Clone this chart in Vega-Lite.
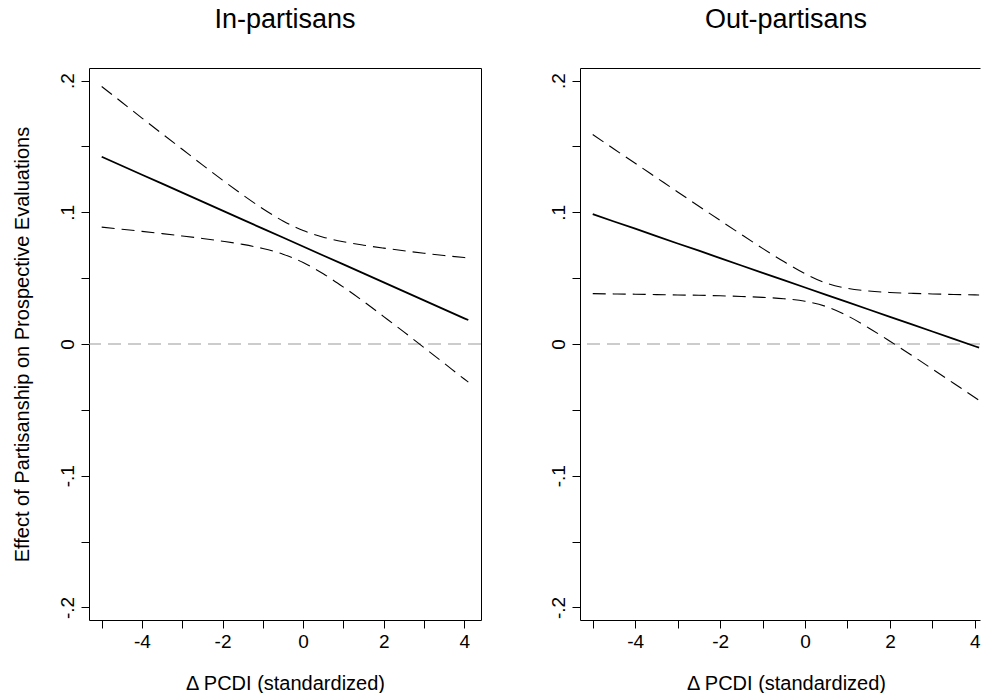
{
  "$schema": "https://vega.github.io/schema/vega-lite/v6.json",
  "padding": {"left": 12, "top": 6, "right": 0, "bottom": 0},
  "bounds": "flush",
  "spacing": 99,
  "datasets": {
    "inp": [
      {"x": -5, "est": 0.1421, "lo": 0.0887, "hi": 0.1955},
      {"x": -4.5, "est": 0.1353, "lo": 0.0871, "hi": 0.1835},
      {"x": -4, "est": 0.1285, "lo": 0.0855, "hi": 0.1715},
      {"x": -3.5, "est": 0.1217, "lo": 0.0838, "hi": 0.1596},
      {"x": -3, "est": 0.1149, "lo": 0.082, "hi": 0.1478},
      {"x": -2.5, "est": 0.1081, "lo": 0.0801, "hi": 0.136},
      {"x": -2, "est": 0.1012, "lo": 0.078, "hi": 0.1244},
      {"x": -1.5, "est": 0.0944, "lo": 0.0756, "hi": 0.1132},
      {"x": -1, "est": 0.0876, "lo": 0.0725, "hi": 0.1027},
      {"x": -0.5, "est": 0.0808, "lo": 0.0682, "hi": 0.0934},
      {"x": 0, "est": 0.074, "lo": 0.0619, "hi": 0.0861},
      {"x": 0.5, "est": 0.0672, "lo": 0.0533, "hi": 0.0811},
      {"x": 1, "est": 0.0604, "lo": 0.0432, "hi": 0.0776},
      {"x": 1.5, "est": 0.0536, "lo": 0.0323, "hi": 0.075},
      {"x": 2, "est": 0.0468, "lo": 0.0208, "hi": 0.0728},
      {"x": 2.5, "est": 0.04, "lo": 0.0092, "hi": 0.0708},
      {"x": 3, "est": 0.0331, "lo": -0.0027, "hi": 0.0689},
      {"x": 3.5, "est": 0.0263, "lo": -0.0146, "hi": 0.0672},
      {"x": 4, "est": 0.0195, "lo": -0.0266, "hi": 0.0656},
      {"x": 4.1, "est": 0.0182, "lo": -0.0289, "hi": 0.0653}
    ],
    "outp": [
      {"x": -5, "est": 0.0986, "lo": 0.0382, "hi": 0.159},
      {"x": -4.5, "est": 0.093, "lo": 0.038, "hi": 0.148},
      {"x": -4, "est": 0.0875, "lo": 0.0378, "hi": 0.1372},
      {"x": -3.5, "est": 0.0819, "lo": 0.0375, "hi": 0.1263},
      {"x": -3, "est": 0.0763, "lo": 0.0372, "hi": 0.1154},
      {"x": -2.5, "est": 0.0708, "lo": 0.037, "hi": 0.1046},
      {"x": -2, "est": 0.0652, "lo": 0.0366, "hi": 0.0938},
      {"x": -1.5, "est": 0.0596, "lo": 0.0361, "hi": 0.0831},
      {"x": -1, "est": 0.054, "lo": 0.0354, "hi": 0.0726},
      {"x": -0.5, "est": 0.0485, "lo": 0.0344, "hi": 0.0626},
      {"x": 0, "est": 0.0429, "lo": 0.0324, "hi": 0.0534},
      {"x": 0.5, "est": 0.0373, "lo": 0.0284, "hi": 0.0462},
      {"x": 1, "est": 0.0318, "lo": 0.0214, "hi": 0.0422},
      {"x": 1.5, "est": 0.0262, "lo": 0.0122, "hi": 0.0402},
      {"x": 2, "est": 0.0206, "lo": 0.0021, "hi": 0.0391},
      {"x": 2.5, "est": 0.0151, "lo": -0.0083, "hi": 0.0385},
      {"x": 3, "est": 0.0095, "lo": -0.019, "hi": 0.038},
      {"x": 3.5, "est": 0.0039, "lo": -0.0298, "hi": 0.0376},
      {"x": 4, "est": -0.0017, "lo": -0.0406, "hi": 0.0373},
      {"x": 4.1, "est": -0.0028, "lo": -0.0428, "hi": 0.0372}
    ],
    "zero": [{"y0": 0}]
  },
  "hconcat": [
    {
      "width": 392,
      "height": 552,
      "title": {"text": "In-partisans"},
      "resolve": {"axis": {"x": "independent", "y": "independent"}},
      "layer": [
        {
          "data": {"name": "zero"},
          "mark": {"type": "rule", "stroke": "#999999", "strokeWidth": 1.2, "strokeDash": [13, 7]},
          "encoding": {
            "y": {"field": "y0", "type": "quantitative", "scale": {"domain": [-0.2095, 0.2095], "nice": false, "zero": false}, "axis": null}
          }
        },
        {
          "data": {"name": "inp"},
          "mark": {"type": "line", "color": "black", "strokeWidth": 1.8},
          "encoding": {
            "x": {"field": "x", "type": "quantitative", "scale": {"domain": [-5.315, 4.415], "nice": false, "zero": false},
              "axis": {"title": "Δ PCDI (standardized)", "values": [-5, -4, -3, -2, -1, 0, 1, 2, 3, 4], "labelExpr": "datum.value % 2 == 0 ? '' + datum.value : ''"}},
            "y": {"field": "est", "type": "quantitative", "scale": {"domain": [-0.2095, 0.2095], "nice": false, "zero": false},
              "axis": {"title": "Effect of Partisanship on Prospective Evaluations", "values": [-0.2, -0.15, -0.1, -0.05, 0, 0.05, 0.1, 0.15, 0.2],
                "labelExpr": "round(datum.value*20)==4 ? '.2' : round(datum.value*20)==2 ? '.1' : round(datum.value*20)==0 ? '0' : round(datum.value*20)==-2 ? '-.1' : round(datum.value*20)==-4 ? '-.2' : ''",
                "labelAngle": -90, "labelAlign": "center", "labelBaseline": "alphabetic", "labelPadding": 8, "titlePadding": 26}}
          }
        },
        {
          "data": {"name": "inp"},
          "mark": {"type": "line", "color": "black", "strokeWidth": 1.1, "strokeDash": [13, 7], "interpolate": "monotone"},
          "encoding": {
            "x": {"field": "x", "type": "quantitative", "scale": {"domain": [-5.315, 4.415], "nice": false, "zero": false},
              "axis": {"orient": "top", "title": null, "ticks": false, "labels": false, "domain": true}},
            "y": {"field": "hi", "type": "quantitative", "scale": {"domain": [-0.2095, 0.2095], "nice": false, "zero": false},
              "axis": {"orient": "right", "title": null, "ticks": false, "labels": false, "domain": true}}
          }
        },
        {
          "data": {"name": "inp"},
          "mark": {"type": "line", "color": "black", "strokeWidth": 1.1, "strokeDash": [13, 7], "interpolate": "monotone"},
          "encoding": {
            "x": {"field": "x", "type": "quantitative", "scale": {"domain": [-5.315, 4.415], "nice": false, "zero": false}, "axis": null},
            "y": {"field": "lo", "type": "quantitative", "scale": {"domain": [-0.2095, 0.2095], "nice": false, "zero": false}, "axis": null}
          }
        }
      ]
    },
    {
      "width": 400,
      "height": 552,
      "title": {"text": "Out-partisans", "dx": 6},
      "resolve": {"axis": {"x": "independent", "y": "independent"}},
      "layer": [
        {
          "data": {"name": "zero"},
          "mark": {"type": "rule", "stroke": "#999999", "strokeWidth": 1.2, "strokeDash": [13, 7]},
          "encoding": {
            "y": {"field": "y0", "type": "quantitative", "scale": {"domain": [-0.2095, 0.2095], "nice": false, "zero": false}, "axis": null}
          }
        },
        {
          "data": {"name": "outp"},
          "mark": {"type": "line", "color": "black", "strokeWidth": 1.8},
          "encoding": {
            "x": {"field": "x", "type": "quantitative", "scale": {"domain": [-5.3, 4.121], "nice": false, "zero": false},
              "axis": {"title": "Δ PCDI (standardized)", "titleX": 206, "values": [-5, -4, -3, -2, -1, 0, 1, 2, 3, 4], "labelExpr": "datum.value % 2 == 0 ? '' + datum.value : ''"}},
            "y": {"field": "est", "type": "quantitative", "scale": {"domain": [-0.2095, 0.2095], "nice": false, "zero": false},
              "axis": {"title": null, "values": [-0.2, -0.15, -0.1, -0.05, 0, 0.05, 0.1, 0.15, 0.2],
                "labelExpr": "round(datum.value*20)==4 ? '.2' : round(datum.value*20)==2 ? '.1' : round(datum.value*20)==0 ? '0' : round(datum.value*20)==-2 ? '-.1' : round(datum.value*20)==-4 ? '-.2' : ''",
                "labelAngle": -90, "labelAlign": "center", "labelBaseline": "alphabetic", "labelPadding": 8}}
          }
        },
        {
          "data": {"name": "outp"},
          "mark": {"type": "line", "color": "black", "strokeWidth": 1.1, "strokeDash": [13, 7], "interpolate": "monotone"},
          "encoding": {
            "x": {"field": "x", "type": "quantitative", "scale": {"domain": [-5.3, 4.121], "nice": false, "zero": false},
              "axis": {"orient": "top", "title": null, "ticks": false, "labels": false, "domain": true}},
            "y": {"field": "hi", "type": "quantitative", "scale": {"domain": [-0.2095, 0.2095], "nice": false, "zero": false}, "axis": null}
          }
        },
        {
          "data": {"name": "outp"},
          "mark": {"type": "line", "color": "black", "strokeWidth": 1.1, "strokeDash": [13, 7], "interpolate": "monotone"},
          "encoding": {
            "x": {"field": "x", "type": "quantitative", "scale": {"domain": [-5.3, 4.121], "nice": false, "zero": false}, "axis": null},
            "y": {"field": "lo", "type": "quantitative", "scale": {"domain": [-0.2095, 0.2095], "nice": false, "zero": false}, "axis": null}
          }
        }
      ]
    }
  ],
  "config": {
    "font": "Liberation Sans",
    "view": {"stroke": null},
    "axis": {
      "grid": false,
      "domainColor": "black",
      "domainWidth": 1,
      "tickColor": "black",
      "tickWidth": 1,
      "tickSize": 8,
      "labelColor": "black",
      "labelFont": "Liberation Sans",
      "labelFontSize": 19,
      "labelOverlap": false,
      "labelFlush": false,
      "labelBound": false,
      "titleColor": "black",
      "titleFont": "Liberation Sans",
      "titleFontSize": 20,
      "titleFontWeight": "normal"
    },
    "axisX": {"labelPadding": 4, "titlePadding": 22},
    "title": {
      "font": "Liberation Sans",
      "fontSize": 27,
      "fontWeight": "normal",
      "color": "black",
      "anchor": "middle",
      "frame": "group",
      "baseline": "alphabetic",
      "offset": 34
    }
  }
}
